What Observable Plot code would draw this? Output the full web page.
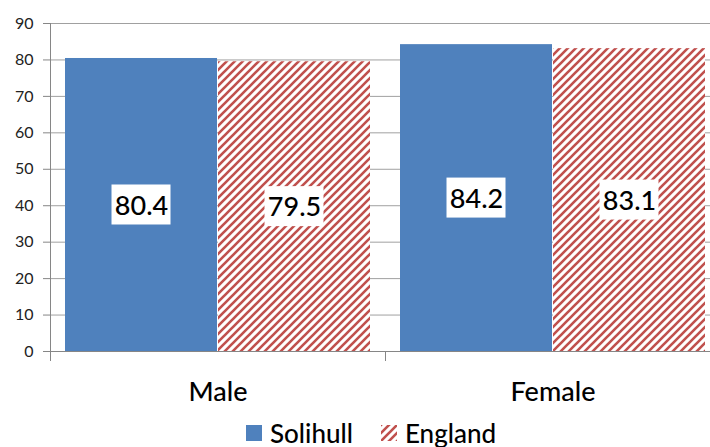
<!DOCTYPE html>
<html>
<head>
<meta charset="utf-8">
<script src="https://cdn.jsdelivr.net/npm/d3@7"></script>
<script src="https://cdn.jsdelivr.net/npm/@observablehq/plot@0.6"></script>
<style>
  html, body { margin: 0; padding: 0; background: #fff; overflow: hidden; }
  #wrap { position: relative; width: 710px; height: 447px; overflow: hidden; font-family: Lato, "Open Sans", sans-serif; }
  #legend { position: absolute; left: 246px; top: 418px; display: flex; align-items: center; font-size: 26px; font-weight: 500; color: #000; white-space: nowrap; line-height: 30px; }
  #legend .sw { width: 16px; height: 16px; display: inline-block; }
  #legend .item { display: flex; align-items: center; }
</style>
</head>
<body>
<div id="wrap"></div>
<script>
const categories = ["Male", "Female"];
const series = ["Solihull", "England"];
const solihullValues = [80.4, 84.2];
const englandValues = [79.5, 83.1];
const yTicks = [0, 10, 20, 30, 40, 50, 60, 70, 80, 90];
const seriesColors = ["#4f81bd", "url(#hatchEngland)"];

const valuesBySeries = [solihullValues, englandValues];
const rows = [];
categories.forEach((cat, i) => {
  series.forEach((s, j) => {
    rows.push({category: cat, ci: i, series: s, si: j, value: valuesBySeries[j][i]});
  });
});

const pad = 0.0433;                // outer gap within each category band
const bw = (1 - 2 * pad) / series.length;
const x1 = d => d.ci + pad + d.si * bw;
const x2 = d => d.ci + pad + (d.si + 1) * bw;
const xm = d => (x1(d) + x2(d)) / 2;

const grid = "#a0a0a0";
const axisGray = "#868686";

const plot = Plot.plot({
  width: 710,
  height: 416,
  marginLeft: 50,
  marginRight: -10,
  marginTop: 23,
  marginBottom: 65,
  style: {fontFamily: "Lato, 'Open Sans', sans-serif", background: "#fff", overflow: "hidden"},
  x: {domain: [0, categories.length], axis: null},
  y: {domain: [0, 90], axis: null},
  color: {domain: series, range: seriesColors},
  marks: [
    Plot.ruleY(yTicks.filter(t => t > 0), {stroke: grid, strokeWidth: 1}),
    Plot.rectY(rows, {x1, x2, y1: 0, y2: "value", fill: "series", insetLeft: 0.5, insetRight: 0.5}),
    Plot.ruleY([0], {stroke: axisGray}),
    Plot.ruleX([0], {stroke: axisGray, insetBottom: -10}),
    Plot.axisY({ticks: yTicks, label: null, tickSize: 7, tickPadding: 10, stroke: axisGray, fill: "#222", fontSize: 16}),
    Plot.axisX({ticks: d3.range(categories.length + 1), label: null, tickSize: 10, tickFormat: () => "", stroke: axisGray}),
    Plot.axisX({ticks: categories.map((c, i) => i + 0.5), label: null, tickSize: 0, tickPadding: 30,
      tickFormat: d => categories[Math.floor(d)], fontSize: 27, fontWeight: 500, fill: "#000"}),
    Plot.rect(rows, {x1: xm, x2: xm, y1: d => d.value / 2, y2: d => d.value / 2, fill: "#fff",
      insetLeft: -29.5, insetRight: -29.5, insetTop: -20, insetBottom: -20}),
    Plot.text(rows, {x: xm, y: d => d.value / 2, text: d => d.value.toFixed(1), fontSize: 27, fontWeight: 500,
      fill: "#000", textAnchor: "middle", lineAnchor: "middle", dy: 1})
  ]
});

d3.select(plot).insert("defs", ":first-child").html(
  `<pattern id="hatchEngland" patternUnits="userSpaceOnUse" width="8" height="8">
     <rect width="8" height="8" fill="#fff"/>
     <path d="M-2,2 L2,-2 M0,8 L8,0 M6,10 L10,6" stroke="#c0504d" stroke-width="2.6"/>
   </pattern>`
);

const wrap = document.getElementById("wrap");
wrap.appendChild(plot);

const legend = document.createElement("div");
legend.id = "legend";
legend.innerHTML = series.map((s, j) => {
  const sw = j === 0
    ? `<span class="sw" style="background:${seriesColors[0]}"></span>`
    : `<svg class="sw" width="16" height="16"><defs><pattern id="hatchLegend" patternUnits="userSpaceOnUse" width="8" height="8"><rect width="8" height="8" fill="#fff"/><path d="M-2,2 L2,-2 M0,8 L8,0 M6,10 L10,6" stroke="#c0504d" stroke-width="2.6"/></pattern></defs><rect width="16" height="16" fill="url(#hatchLegend)"/></svg>`;
  return `<span class="item" style="margin-right:${j === 0 ? 28 : 0}px">${sw}<span style="margin-left:8px">${s}</span></span>`;
}).join("");
wrap.appendChild(legend);
</script>
</body>
</html>
